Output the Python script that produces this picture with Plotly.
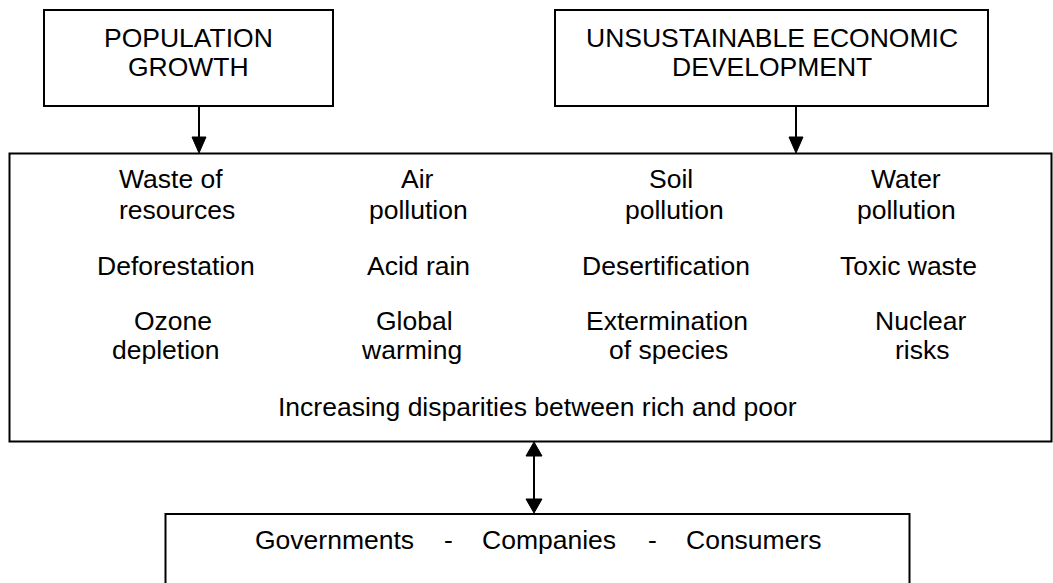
import plotly.graph_objects as go

W, H = 1053, 583
FONT = "Liberation Sans, Arial, sans-serif"
FS = 26.5
BASE_OFF = 0.3465 * FS  # baseline -> bbox centre

# ---- text content ----
top_left_lines = ["POPULATION", "GROWTH"]
top_right_lines = ["UNSUSTAINABLE ECONOMIC", "DEVELOPMENT"]
impact_lines = [
    # column 1
    ["Waste of", "resources"], ["Deforestation"], ["Ozone", "depletion"],
    # column 2
    ["Air", "pollution"], ["Acid rain"], ["Global", "warming"],
    # column 3
    ["Soil", "pollution"], ["Desertification"], ["Extermination", "of species"],
    # column 4
    ["Water", "pollution"], ["Toxic waste"], ["Nuclear", "risks"],
]
disparity_text = "Increasing disparities between rich and poor"
actors = ["Governments", "-", "Companies", "-", "Consumers"]

# ---- layout (pixel positions) ----
impact_x = [
    [171, 177], [175.5], [173, 165.5],
    [417.5, 418], [418], [414, 411.5],
    [671, 674], [666], [667, 668.5],
    [905.5, 906.5], [908.5], [920.5, 921.5],
]
row_baselines = [[188, 219], [275], [330, 359]]
top_baselines = [47, 76]
disparity_pos = (537.5, 416)
actor_x = [334, 448.5, 549, 652.5, 753.5]
actor_baseline = 549

box_top_left = (44, 10, 333, 106)
box_top_right = (555, 10, 988, 106)
box_main = (9.5, 153.5, 1051.5, 441.5)
box_bottom = (165.5, 514, 909.5, 600)

fig = go.Figure()
fig.add_trace(go.Scatter(x=[0, W], y=[0, H], mode="markers",
                         marker=dict(opacity=0), hoverinfo="skip", showlegend=False))

def ann(text, x, baseline):
    fig.add_annotation(x=x, y=baseline - BASE_OFF, text=text, showarrow=False,
                       xref="x", yref="y", xanchor="center", yanchor="middle",
                       font=dict(family=FONT, size=FS, color="black"))

for i, line in enumerate(top_left_lines):
    ann(line, (box_top_left[0] + box_top_left[2]) / 2, top_baselines[i])
for i, line in enumerate(top_right_lines):
    ann(line, (box_top_right[0] + box_top_right[2]) / 2, top_baselines[i])

for k, lines in enumerate(impact_lines):
    row = k % 3
    for j, line in enumerate(lines):
        ann(line, impact_x[k][j], row_baselines[row][j])

ann(disparity_text, disparity_pos[0], disparity_pos[1])
for t, x in zip(actors, actor_x):
    ann(t, x, actor_baseline)

LINE = dict(color="black", width=2)
for b in (box_top_left, box_top_right, box_main, box_bottom):
    fig.add_shape(type="rect", x0=b[0], y0=b[1], x1=b[2], y1=b[3],
                  line=LINE, fillcolor="rgba(0,0,0,0)", layer="above")

def down_arrow(x, y0, y1, hw=7, hh=16):
    fig.add_shape(type="line", x0=x, y0=y0, x1=x, y1=y1 - hh + 2, line=LINE)
    fig.add_shape(type="path",
                  path=f"M {x-hw},{y1-hh} L {x+hw},{y1-hh} L {x},{y1} Z",
                  fillcolor="black", line=dict(color="black", width=1))

def double_arrow(x, y0, y1, hw=8, hh=14):
    fig.add_shape(type="line", x0=x, y0=y0 + hh - 2, x1=x, y1=y1 - hh + 2, line=LINE)
    fig.add_shape(type="path",
                  path=f"M {x-hw},{y0+hh} L {x+hw},{y0+hh} L {x},{y0} Z",
                  fillcolor="black", line=dict(color="black", width=1))
    fig.add_shape(type="path",
                  path=f"M {x-hw},{y1-hh} L {x+hw},{y1-hh} L {x},{y1} Z",
                  fillcolor="black", line=dict(color="black", width=1))

down_arrow(199, 106, 153)
down_arrow(796, 106, 153)
double_arrow(534, 442, 513)

fig.update_layout(
    width=W, height=H, margin=dict(l=0, r=0, t=0, b=0),
    paper_bgcolor="white", plot_bgcolor="white", showlegend=False,
    xaxis=dict(range=[0, W], visible=False, fixedrange=True),
    yaxis=dict(range=[H, 0], visible=False, fixedrange=True),
)
fig.write_html("out.html", config={"displayModeBar": False},
               post_script="document.body.style.margin='0';document.body.style.overflow='hidden';")
